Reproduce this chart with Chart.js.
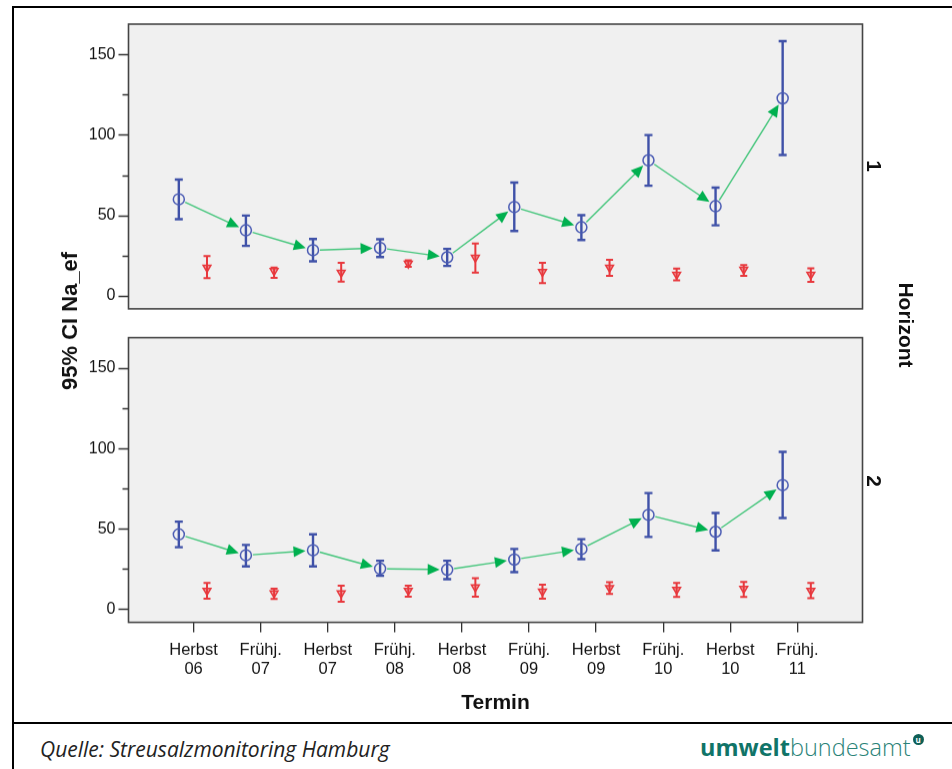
<!DOCTYPE html>
<html><head><meta charset="utf-8">
<script src="https://cdn.jsdelivr.net/npm/chart.js@4"></script>
<style>
body{margin:0;width:952px;height:769px;position:relative;background:#fff;overflow:hidden;font-family:"Liberation Sans",Arial,sans-serif}
.abs{position:absolute}
.rot{position:absolute;white-space:nowrap;font-weight:bold;font-size:21px;color:#111;transform-origin:center center}
</style></head><body>
<div class="abs" style="left:12px;top:6px;width:940px;height:2px;background:#000"></div>
<div class="abs" style="left:12px;top:6px;width:2px;height:763px;background:#000"></div>
<div class="abs" style="left:12px;top:722px;width:940px;height:2px;background:#000"></div>
<div class="abs" style="left:0;top:0;width:952px;height:330.5px"><canvas id="c1"></canvas></div>
<div class="abs" style="left:0;top:315.4px;width:952px;height:414.6px"><canvas id="c2"></canvas></div>
<div class="rot" id="ytitle" style="left:70px;top:321px;font-size:22px;transform:translate(-50%,-50%) rotate(-90deg)">95% CI Na_ef</div>
<div class="rot" style="left:874px;top:166px;transform:translate(-50%,-50%) rotate(90deg)">1</div>
<div class="rot" style="left:874px;top:481px;transform:translate(-50%,-50%) rotate(90deg)">2</div>
<div class="rot" style="left:906px;top:325px;transform:translate(-50%,-50%) rotate(90deg)">Horizont</div>
<div class="abs" style="left:40px;top:735px;font-family:'Open Sans',sans-serif;font-style:italic;font-size:21px;color:#222;white-space:nowrap">Quelle: Streusalzmonitoring Hamburg</div>
<div class="abs" style="left:700px;top:731px;font-family:'Open Sans',sans-serif;font-size:23.5px;color:#2a8378;white-space:nowrap"><span style="font-weight:700;color:#107468">umwelt</span><span style="font-weight:300">bundesamt</span><span style="display:inline-block;position:relative;top:-13px;left:2px;width:11px;height:11px;border-radius:50%;background:#0f5f56;color:#fff;font-size:8px;line-height:11px;text-align:center;font-weight:700">u</span></div>
<script>
const terminSeason = ['Herbst','Frühj.','Herbst','Frühj.','Herbst','Frühj.','Herbst','Frühj.','Herbst','Frühj.'];
const terminYear = ['06','07','07','08','08','09','09','10','10','11'];
const yMajorTicks = [0,50,100,150];
const yMinorTicks = [25,75,125];
// Horizont 1
const h1BlueMean = [59.9,40.6,28.2,29.6,23.8,55.1,42.5,84.2,55.6,122.8];
const h1BlueLow  = [47.5,30.9,21.3,24.0,18.4,40.2,34.6,68.4,43.7,87.5];
const h1BlueHigh = [72.2,49.8,35.2,35.0,29.0,70.3,50.0,99.9,67.2,158.4];
const h1RedMean  = [17.4,15.3,14.3,19.9,23.6,14.7,17.4,13.1,16.2,13.1];
const h1RedLow   = [10.8,11.0,8.7,17.8,14.3,7.7,12.2,9.5,12.2,8.5];
const h1RedHigh  = [24.6,17.4,20.3,22.0,32.4,20.3,22.2,16.8,18.9,17.0];
// Horizont 2
const h2BlueMean = [46.5,33.5,36.6,25.1,24.5,30.8,37.4,58.6,48.1,77.2];
const h2BlueLow  = [38.5,26.6,26.6,20.7,18.6,23.0,31.1,44.9,36.6,56.7];
const h2BlueHigh = [54.4,39.9,46.5,30.1,30.1,37.4,43.5,72.2,59.8,97.9];
const h2RedMean  = [11.5,9.8,9.8,11.5,13.6,10.9,13.2,12.1,12.6,11.5];
const h2RedLow   = [6.5,6.3,4.6,7.7,7.7,6.5,9.4,7.5,7.5,6.7];
const h2RedHigh  = [16.3,12.6,14.6,14.6,19.2,15.1,16.7,16.3,16.9,16.3];

const BLUE = '#3f51a8', BLUE_PT = '#4b5cb4', RED = '#e8383d', GREEN_LINE = '#45c67c', GREEN_HEAD = '#00b04f';
const BLUE_OFF = -0.22, RED_OFF = 0.2;
const FONT = "'Liberation Sans', Arial, sans-serif";

const panelPlugin = {
  id: 'panel',
  beforeDraw(chart) {
    const {ctx, chartArea: a} = chart;
    ctx.save(); ctx.fillStyle = '#f0f0f0'; ctx.fillRect(a.left, a.top, a.width, a.height); ctx.restore();
  },
  beforeDatasetsDraw(chart) {
    const ctx = chart.ctx, ys = chart.scales.y;
    const pts = chart.getDatasetMeta(0).data;
    ctx.save();
    for (let i = 0; i < pts.length - 1; i++) {
      const x0 = pts[i].x, y0 = pts[i].y, x1 = pts[i+1].x, y1 = pts[i+1].y;
      const dx = x1 - x0, dy = y1 - y0, L = Math.hypot(dx, dy), ux = dx / L, uy = dy / L;
      const sx = x0 + ux * 7, sy = y0 + uy * 7;
      const ex = x1 - ux * 7.5, ey = y1 - uy * 7.5;
      const hl = 12, hw = 5.5;
      const bx = ex - ux * hl, by = ey - uy * hl;
      ctx.strokeStyle = GREEN_LINE; ctx.lineWidth = 1.4;
      ctx.beginPath(); ctx.moveTo(sx, sy); ctx.lineTo(bx + ux * 2, by + uy * 2); ctx.stroke();
      ctx.fillStyle = GREEN_HEAD;
      ctx.beginPath(); ctx.moveTo(ex, ey);
      ctx.lineTo(bx - uy * hw, by + ux * hw); ctx.lineTo(bx + uy * hw, by - ux * hw); ctx.closePath(); ctx.fill();
    }
    chart.data.datasets.forEach((ds, di) => {
      const meta = chart.getDatasetMeta(di);
      ctx.strokeStyle = ds.errColor; ctx.lineWidth = ds.errWidth;
      meta.data.forEach((p, i) => {
        const yl = ys.getPixelForValue(ds.errLow[i]), yh = ys.getPixelForValue(ds.errHigh[i]);
        const c = ds.capHalf;
        ctx.beginPath();
        ctx.moveTo(p.x, yl); ctx.lineTo(p.x, yh);
        ctx.moveTo(p.x - c, yl); ctx.lineTo(p.x + c, yl);
        ctx.moveTo(p.x - c, yh); ctx.lineTo(p.x + c, yh);
        ctx.stroke();
      });
    });
    ctx.restore();
  },
  afterDraw(chart) {
    const {ctx, chartArea: a} = chart, ys = chart.scales.y;
    ctx.save();
    ctx.strokeStyle = '#444'; ctx.lineWidth = 1.6;
    ctx.strokeRect(a.left, a.top, a.width, a.height);
    ctx.strokeStyle = '#333'; ctx.lineWidth = 1.3;
    ctx.beginPath();
    yMajorTicks.forEach(v => { const y = Math.round(ys.getPixelForValue(v)) + 0.5; ctx.moveTo(a.left - 10, y); ctx.lineTo(a.left, y); });
    yMinorTicks.forEach(v => { const y = Math.round(ys.getPixelForValue(v)) + 0.5; ctx.moveTo(a.left - 6, y); ctx.lineTo(a.left, y); });
    ctx.stroke();
    ctx.restore();
  }
};

function makeChart(id, blueMean, blueLow, blueHigh, redMean, redLow, redHigh, showX, padTop, padBottom) {
  return new Chart(document.getElementById(id), {
    type: 'scatter',
    data: {
      datasets: [
        { data: blueMean.map((v, i) => ({x: i + BLUE_OFF, y: v})), errLow: blueLow, errHigh: blueHigh,
          errColor: BLUE, errWidth: 2.4, capHalf: 4,
          pointStyle: 'circle', pointRadius: 5.5, borderColor: BLUE_PT, backgroundColor: 'rgba(0,0,0,0)', borderWidth: 1.5 },
        { data: redMean.map((v, i) => ({x: i + RED_OFF, y: v})), errLow: redLow, errHigh: redHigh,
          errColor: RED, errWidth: 2, capHalf: 3.5,
          pointStyle: 'triangle', rotation: 180, pointRadius: 4.5, borderColor: RED, backgroundColor: 'rgba(232,56,61,0.4)', borderWidth: 1.5 }
      ]
    },
    options: {
      responsive: true, maintainAspectRatio: false, animation: false,
      layout: { padding: { left: 0, right: 89.5, top: padTop, bottom: padBottom } },
      plugins: { legend: { display: false }, tooltip: { enabled: false } },
      scales: {
        x: {
          type: 'linear', min: -0.97, max: 9.97, display: showX,
          afterBuildTicks: s => { s.ticks = terminSeason.map((_, i) => ({value: i})); },
          afterFit: s => { if (showX) s.height = 108; },
          grid: { display: true, drawOnChartArea: false, drawTicks: true, tickLength: 10, color: '#333', lineWidth: 1.3 },
          border: { display: false },
          ticks: { padding: 7.5, autoSkip: false, maxRotation: 0, color: '#111', font: { family: FONT, size: 16.5 },
                   callback: (v, i) => [terminSeason[i], terminYear[i]] },
          title: { display: true, text: 'Termin', color: '#111', font: { family: FONT, size: 21, weight: 'bold' }, padding: { top: 0, bottom: 15 } }
        },
        y: {
          min: -8.3, max: 169,
          afterBuildTicks: s => { s.ticks = yMajorTicks.map(v => ({value: v})); },
          afterFit: s => { s.width = 128.5; },
          grid: { display: false, drawTicks: false },
          border: { display: false },
          ticks: { padding: 13, color: '#111', font: { family: FONT, size: 16 } }
        }
      }
    },
    plugins: [panelPlugin]
  });
}

makeChart('c1', h1BlueMean, h1BlueLow, h1BlueHigh, h1RedMean, h1RedLow, h1RedHigh, false, 24, 0);
makeChart('c2', h2BlueMean, h2BlueLow, h2BlueHigh, h2RedMean, h2RedLow, h2RedHigh, true, 0, 0);
</script>
</body></html>
